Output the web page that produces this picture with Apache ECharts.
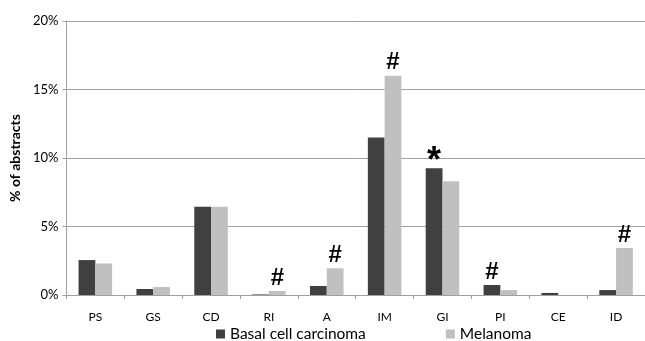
<!DOCTYPE html>
<html><head><meta charset="utf-8">
<script src="https://cdn.jsdelivr.net/npm/echarts@6/dist/echarts.min.js"></script>
<style>html,body{margin:0;padding:0;background:#fff}#c{width:645px;height:341px}</style>
</head><body><div id="c"></div>
<script>
const categories = ['PS','GS','CD','RI','A','IM','GI','PI','CE','ID'];
const bccValues = [2.55, 0.44, 6.45, 0.04, 0.66, 11.5, 9.25, 0.73, 0.15, 0.36];
const melValues = [2.3, 0.58, 6.45, 0.29, 1.95, 16.0, 8.3, 0.36, 0, 3.43];
const bccMarks = ['', '', '', '', '', '', '*', '#', '', ''];
const melMarks = ['', '', '', '#', '#', '#', '', '', '', '#'];
const yTicks = [0, 5, 10, 15, 20];
const seriesNames = ['Basal cell carcinoma', 'Melanoma'];
const yTitle = '% of abstracts';

const font = 'Lato, "Liberation Sans", sans-serif';
function mkData(vals, marks) {
  return vals.map((v, i) => ({
    value: v,
    label: marks[i] ? {
      show: true, position: 'top', formatter: marks[i],
      fontSize: marks[i] === '*' ? 36 : 24,
      fontWeight: 'bold',
      distance: marks[i] === '*' ? -12 : 1,
      color: '#000', fontFamily: '"Liberation Sans", sans-serif'
    } : { show: false }
  }));
}
const chart = echarts.init(document.getElementById('c'), null, { renderer: 'canvas' });
chart.setOption({
  animation: false,
  grid: { left: 65, right: 0, top: 21, bottom: 46 },
  legend: {
    top: 326, left: 216, padding: 0, itemGap: 80, itemWidth: 9, itemHeight: 9,
    icon: 'rect',
    textStyle: { fontFamily: font, fontSize: 15.5, color: '#000' },
    data: seriesNames
  },
  xAxis: {
    type: 'category', data: categories,
    axisLine: { lineStyle: { color: '#a0a0a0' } },
    axisTick: { show: true, length: 4, lineStyle: { color: '#a0a0a0' } },
    axisLabel: { fontFamily: font, fontSize: 12, color: '#000', margin: 16 }
  },
  yAxis: {
    type: 'value', min: yTicks[0], max: yTicks[yTicks.length - 1], interval: 5,
    name: yTitle, nameLocation: 'middle', nameGap: 43,
    nameTextStyle: { fontFamily: font, fontSize: 14, fontWeight: 'bold', color: '#000' },
    axisLine: { show: true, lineStyle: { color: '#a0a0a0' } },
    axisTick: { show: true, length: 4, lineStyle: { color: '#a0a0a0' } },
    splitLine: { lineStyle: { color: '#a0a0a0' } },
    axisLabel: { formatter: v => v + '%', fontFamily: font, fontSize: 13, color: '#000', margin: 8 }
  },
  series: [
    { name: seriesNames[0], type: 'bar', data: mkData(bccValues, bccMarks), itemStyle: { color: '#404040' }, barGap: '0%', barCategoryGap: '42%' },
    { name: seriesNames[1], type: 'bar', data: mkData(melValues, melMarks), itemStyle: { color: '#c0c0c0' }, barGap: '0%', barCategoryGap: '42%' }
  ]
});
</script></body></html>
